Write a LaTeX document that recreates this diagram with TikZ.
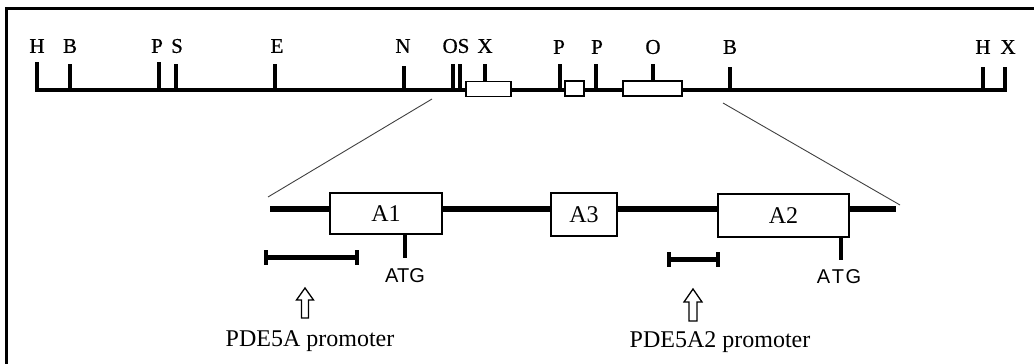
\documentclass[tikz,border=0pt]{standalone}
\usepackage{fontspec}
\setmainfont{Liberation Serif}
\newfontfamily\atgfont{Liberation Sans}
\newfontfamily\heavyserif[FakeBold=0.6]{Liberation Serif}
\begin{document}
\begin{tikzpicture}[x=1pt,y=-1pt,
  sitelabel/.style={font=\heavyserif\fontsize{21}{21}\selectfont, inner sep=0pt, anchor=center},
  sitetick/.style={line width=3.5pt},
  mapline/.style={line width=4pt},
  smallbox/.style={draw, line width=1.5pt, fill=white},
  genebox/.style={draw, line width=1.5pt, fill=white, inner sep=0pt, font=\fontsize{24}{24}\selectfont},
  thickline/.style={line width=6.5pt},
  zoomline/.style={line width=0.9pt, black!75},
  atglabel/.style={font=\atgfont\fontsize{20}{20}\selectfont, inner sep=0pt},
  promlabel/.style={font=\fontsize{24}{24}\selectfont, inner sep=0pt},
  prombar/.style={line width=5pt},
  barcap/.style={line width=4.5pt},
  hollowarrow/.style={draw, line width=1.3pt, fill=white, line join=miter}
]
\useasboundingbox (0,0) rectangle (1034,364);
% frame
\draw[line width=2.2pt] (6.5,364) -- (6.5,8.5) -- (1034,8.5);

% ---------------- top restriction map ----------------
\coordinate (Lstart) at (37,90);
\coordinate (Lend) at (1005,90);
\draw[mapline] (Lstart) -- (Lend);
\foreach \n/\x/\t in {h1/37/62, b1/70/64, p1/159/62, s1/176/64, e1/275/64, n1/404/66,
                      o1/453/64, s2/460/64, p2/560/64, p3/596/64, b2/730/67, h2/983/67, x2/1005/67}{
  \coordinate (\n top) at (\x,\t);
  \coordinate (\n bot) at (\x,92);
  \draw[sitetick] (\n top) -- (\n bot);
}
\node[smallbox, minimum width=45, minimum height=15, inner sep=0pt] (bx1) at (488.5,89) {};
\node[smallbox, minimum width=19, minimum height=15, inner sep=0pt] (bx2) at (574.5,88.5) {};
\node[smallbox, minimum width=59, minimum height=15, inner sep=0pt] (bx3) at (652.5,88.5) {};
\coordinate (x1top) at (485,64);
\coordinate (o2top) at (653,64);
\draw[sitetick] (x1top) -- (x1top |- bx1.north);
\draw[sitetick] (o2top) -- (o2top |- bx3.north);
\node[sitelabel] (lH1) at (37,46) {H};
\node[sitelabel] (lB1) at (70,46) {B};
\node[sitelabel] (lP1) at (157,46) {P};
\node[sitelabel] (lS1) at (177,46) {S};
\node[sitelabel] (lE1) at (277,46) {E};
\node[sitelabel] (lN1) at (403,46) {N};
\node[sitelabel] (lOS) at (456,46) {OS};
\node[sitelabel] (lX1) at (485,46) {X};
\node[sitelabel] (lP2) at (559,47) {P};
\node[sitelabel] (lP3) at (597,47) {P};
\node[sitelabel] (lO2) at (653,47) {O};
\node[sitelabel] (lB2) at (730,47) {B};
\node[sitelabel] (lH2) at (983,47) {H};
\node[sitelabel] (lX2) at (1008,47) {X};

% ---------------- zoomed region ----------------
\coordinate (zl1) at (432,99);
\coordinate (zl2) at (268,197);
\coordinate (zr1) at (723,103);
\coordinate (zr2) at (900,205);
\draw[zoomline] (zl1) -- (zl2);
\draw[zoomline] (zr1) -- (zr2);

\coordinate (gstart) at (270,209);
\coordinate (gend) at (896,209);
\draw[thickline] (gstart) -- (gend);
\node[genebox, minimum width=112, minimum height=41] (A1) at (386,213.5) {A1};
\node[genebox, minimum width=66, minimum height=43] (A3) at (584,214.5) {A3};
\node[genebox, minimum width=131, minimum height=43] (A2) at (783.5,215.5) {A2};

\coordinate (atg1) at (405,258);
\coordinate (atg2) at (841,260);
\draw[sitetick] (atg1 |- A1.south) -- (atg1);
\draw[sitetick] (atg2 |- A2.south) -- (atg2);
\node[atglabel] (tATG1) at (405,276) {ATG};
\node[atglabel] (tATG2) at (839,277) {A\kern1.5pt T\kern1.5pt G};

\coordinate (pb1l) at (266,257);
\coordinate (pb1r) at (357,257);
\coordinate (pb2l) at (669,259);
\coordinate (pb2r) at (718,259);
\draw[prombar] (pb1l) -- (pb1r);
\draw[prombar] (pb2l) -- (pb2r);
\foreach \c in {pb1l,pb1r,pb2l,pb2r}{
  \draw[barcap] ([yshift=-7.5pt]\c) -- ([yshift=7.5pt]\c);
}

\draw[hollowarrow] (305,288) -- (313.5,300) -- (308.5,300) -- (308.5,318) -- (301.5,318) -- (301.5,300) -- (296.5,300) -- cycle;
\draw[hollowarrow] (693,289) -- (702,302) -- (697,302) -- (697,321) -- (689,321) -- (689,302) -- (684,302) -- cycle;

\node[promlabel] (tP1) at (310,341) {PDE5A promoter};
\node[promlabel] (tP2) at (720,342) {PDE5A2 promoter};
\end{tikzpicture}
\end{document}
